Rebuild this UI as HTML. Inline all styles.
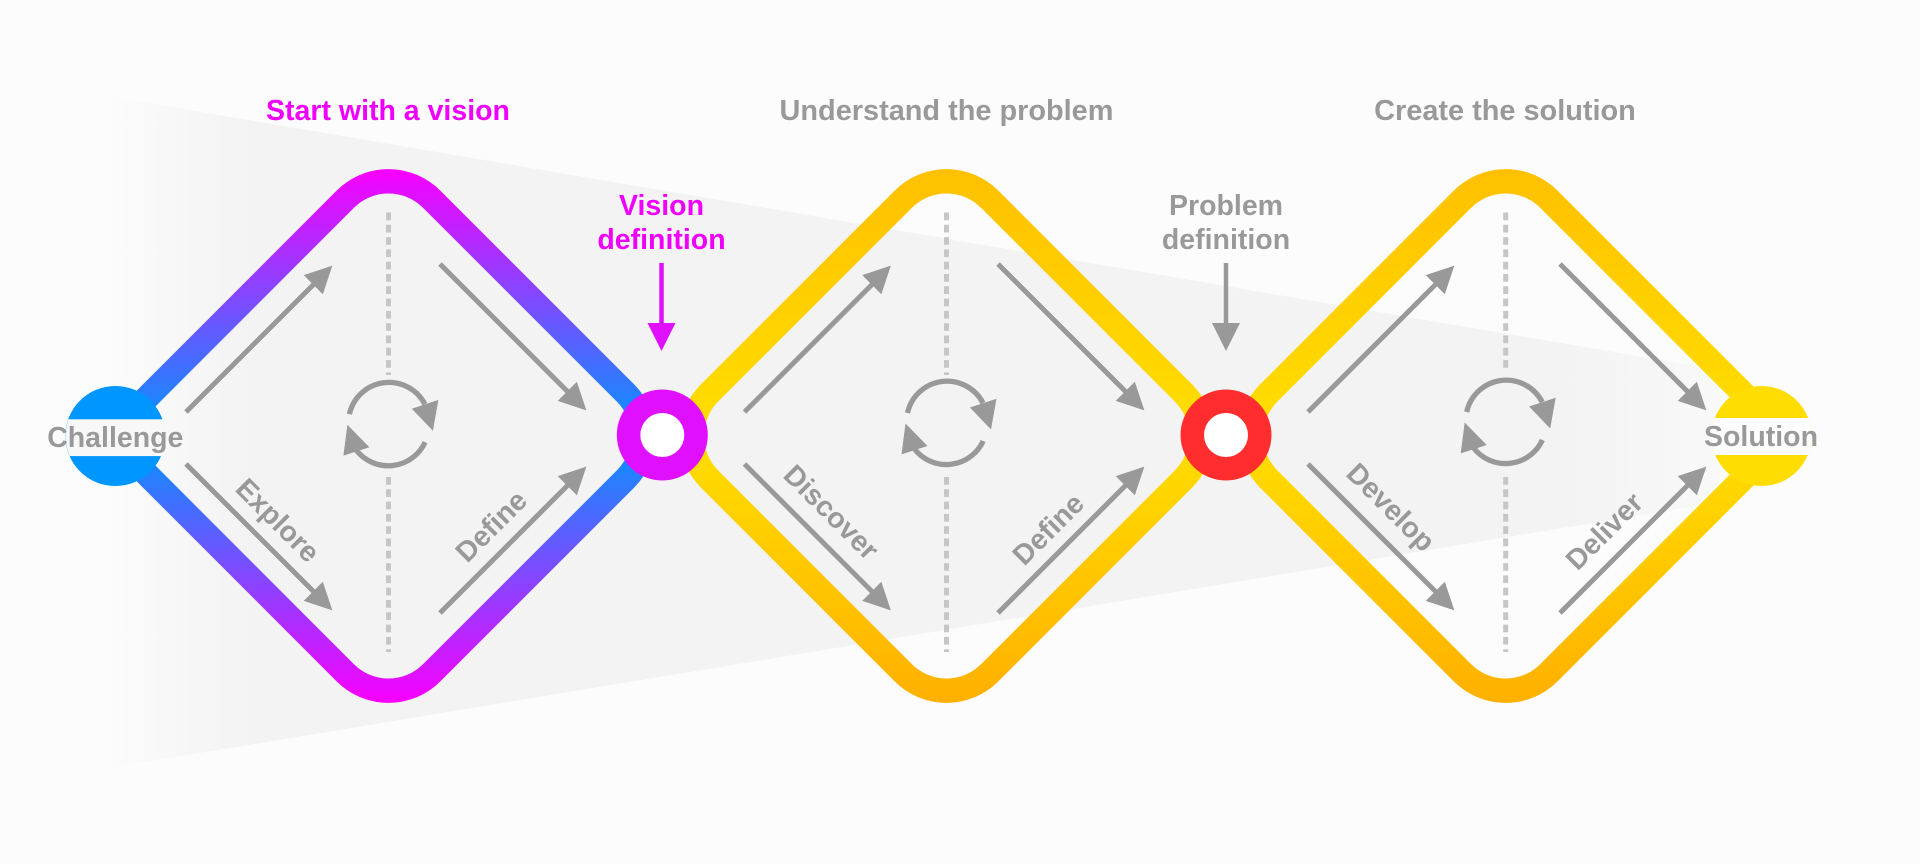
<!DOCTYPE html>
<html>
<head>
<meta charset="utf-8">
<style>
html,body{margin:0;padding:0;width:1920px;height:864px;overflow:hidden;background:#fcfcfc}
svg{display:block}
text{font-family:"Liberation Sans",Arial,sans-serif;font-weight:700;font-size:28.5px;fill:#999}
.m{fill:#ee00fb}
.h{font-size:28.9px}
</style>
</head>
<body>
<svg width="1920" height="864" viewBox="0 0 1920 864" xmlns="http://www.w3.org/2000/svg">
<defs>
<linearGradient id="w" gradientUnits="userSpaceOnUse" x1="100" y1="0" x2="1730" y2="0">
<stop offset="0" stop-color="#f3f3f3" stop-opacity="0"/>
<stop offset="0.09" stop-color="#f3f3f3" stop-opacity="1"/>
<stop offset="0.9" stop-color="#f3f3f3" stop-opacity="1"/>
<stop offset="1" stop-color="#f3f3f3" stop-opacity="0.3"/>
</linearGradient>
<linearGradient id="p" gradientUnits="userSpaceOnUse" x1="0" y1="169" x2="0" y2="703">
<stop offset="0" stop-color="#f900ff"/>
<stop offset="0.5" stop-color="#0096ff"/>
<stop offset="1" stop-color="#f900ff"/>
</linearGradient>
<linearGradient id="y" gradientUnits="userSpaceOnUse" x1="0" y1="169" x2="0" y2="703">
<stop offset="0" stop-color="#ffc000"/>
<stop offset="0.5" stop-color="#ffdf00"/>
<stop offset="1" stop-color="#ffb000"/>
</linearGradient>
<clipPath id="c1"><circle cx="115.5" cy="436" r="50"/></clipPath>
<clipPath id="c2"><circle cx="1761.5" cy="436" r="50"/></clipPath>
<g id="a"><line x1="0" y1="0" x2="183" y2="0" stroke="#999" stroke-width="5"/><polygon points="207,0 180,-13.5 180,13.5" fill="#999"/></g>
<g id="cy">
<path d="M-39,-11 A40.5,40.5 0 0 1 36.5,-21" fill="none" stroke="#999" stroke-width="5.3"/>
<path d="M36.7,17 A40.5,40.5 0 0 1 -32,25" fill="none" stroke="#999" stroke-width="5.3"/>
<polygon points="23.4,-16.5 50,-25.3 44.5,5.5" fill="#999"/>
<polygon points="-41,-0.5 -19,22 -45,30.4" fill="#999"/>
</g>
</defs>

<rect width="1920" height="864" fill="#fcfcfc"/>
<polygon points="60,88 1720,370 1720,502 60,776" fill="url(#w)"/>

<!-- diamonds -->
<path d="M1462.6,199.1 A61,61 0 0 1 1548.8,199.1 L1785.7,436 L1548.8,672.9 A61,61 0 0 1 1462.6,672.9 L1268.8,479.1 A61,61 0 0 1 1268.8,392.9 Z" fill="none" stroke="url(#y)" stroke-width="24.4"/>
<path d="M903.4,199.1 A61,61 0 0 1 989.6,199.1 L1183.4,392.9 A61,61 0 0 1 1183.4,479.1 L989.6,672.9 A61,61 0 0 1 903.4,672.9 L709.6,479.1 A61,61 0 0 1 709.6,392.9 Z" fill="none" stroke="url(#y)" stroke-width="24.4"/>
<path d="M345.4,199.1 A61,61 0 0 1 431.6,199.1 L625.4,392.9 A61,61 0 0 1 625.4,479.1 L431.6,672.9 A61,61 0 0 1 345.4,672.9 L108.7,436 Z" fill="none" stroke="url(#p)" stroke-width="24.4"/>

<!-- dashed axes -->
<g stroke="#c6c6c6" stroke-width="5" stroke-dasharray="7.7 4.6" fill="none">
<line x1="388.5" y1="212.5" x2="388.5" y2="375"/>
<line x1="388.5" y1="477" x2="388.5" y2="652"/>
<line x1="946.5" y1="212.5" x2="946.5" y2="375"/>
<line x1="946.5" y1="477" x2="946.5" y2="652"/>
<line x1="1505.7" y1="212.5" x2="1505.7" y2="372"/>
<line x1="1505.7" y1="477" x2="1505.7" y2="652"/>
</g>

<!-- cycle icons -->
<use href="#cy" transform="translate(388.4,425.2)"/>
<use href="#cy" transform="translate(946.5,424)"/>
<use href="#cy" transform="translate(1505.7,423)"/>

<!-- arrows -->
<use href="#a" transform="translate(186,412) rotate(-45)"/>
<use href="#a" transform="translate(440,264) rotate(45)"/>
<use href="#a" transform="translate(186,464) rotate(45)"/>
<use href="#a" transform="translate(440,613) rotate(-45)"/>

<use href="#a" transform="translate(744.5,412) rotate(-45)"/>
<use href="#a" transform="translate(998,264) rotate(45)"/>
<use href="#a" transform="translate(744.5,464) rotate(45)"/>
<use href="#a" transform="translate(998,613) rotate(-45)"/>

<use href="#a" transform="translate(1308,412) rotate(-45)"/>
<use href="#a" transform="translate(1560,264) rotate(45)"/>
<use href="#a" transform="translate(1308,464) rotate(45)"/>
<use href="#a" transform="translate(1560,613) rotate(-45)"/>

<!-- down arrows -->
<line x1="661.5" y1="263" x2="661.5" y2="326" stroke="#e010ff" stroke-width="4.5"/>
<polygon points="661.5,351 647.5,323 675.5,323" fill="#e010ff"/>
<line x1="1226" y1="263" x2="1226" y2="326" stroke="#999" stroke-width="4.5"/>
<polygon points="1226,351 1212,323 1240,323" fill="#999"/>

<!-- end nodes -->
<circle cx="115.3" cy="436" r="50" fill="#0096ff"/>
<rect x="60" y="419.3" width="112" height="36.8" fill="#f8f8f8" clip-path="url(#c1)"/>
<circle cx="1761.5" cy="436" r="50" fill="#ffdd00"/>
<rect x="1705" y="418" width="112" height="37" fill="#fdfdfd" clip-path="url(#c2)"/>

<!-- rings -->
<circle cx="662.3" cy="435" r="45.5" fill="#e010ff"/>
<circle cx="662.3" cy="435" r="22" fill="#fff"/>
<circle cx="1226" cy="435" r="45.5" fill="#ff2d2d"/>
<circle cx="1226" cy="435" r="22" fill="#fff"/>

<!-- labels -->
<text class="m" x="388" y="120" text-anchor="middle">Start with a vision</text>
<text class="h" x="946.5" y="120" text-anchor="middle">Understand the problem</text>
<text class="h" x="1505" y="120" text-anchor="middle">Create the solution</text>

<text class="m" x="661.5" y="215" text-anchor="middle">Vision</text>
<text class="m" x="661.5" y="249" text-anchor="middle">definition</text>
<text x="1226" y="215" text-anchor="middle">Problem</text>
<text x="1226" y="249" text-anchor="middle">definition</text>

<text x="115.3" y="447" text-anchor="middle">Challenge</text>
<text x="1761" y="446" text-anchor="middle">Solution</text>

<text transform="translate(278,520) rotate(45)" y="10" text-anchor="middle">Explore</text>
<text transform="translate(491,526) rotate(-45)" y="10" text-anchor="middle">Define</text>
<text transform="translate(831.5,512) rotate(45)" y="10" text-anchor="middle">Discover</text>
<text transform="translate(1048,529) rotate(-45)" y="10" text-anchor="middle">Define</text>
<text transform="translate(1391,507) rotate(45)" y="10" text-anchor="middle">Develop</text>
<text transform="translate(1604,531) rotate(-45)" y="10" text-anchor="middle">Deliver</text>
</svg>
</body>
</html>
